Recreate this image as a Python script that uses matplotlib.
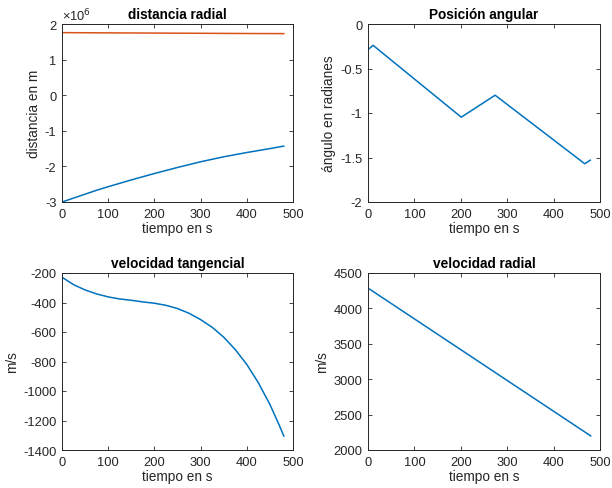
import numpy as np
import matplotlib.pyplot as plt

# ---- data ----
t_dist = [0, 25, 50, 75, 100, 150, 200, 250, 300, 350, 400, 450, 480]
r_blue = [-3.00e6, -2.89e6, -2.78e6, -2.67e6, -2.57e6, -2.38e6, -2.20e6,
          -2.03e6, -1.87e6, -1.73e6, -1.61e6, -1.50e6, -1.43e6]
r_orange = [1.757e6, 1.756e6, 1.754e6, 1.753e6, 1.751e6, 1.748e6, 1.745e6,
            1.742e6, 1.739e6, 1.736e6, 1.733e6, 1.731e6, 1.730e6]

t_ang = [0, 11, 201, 274, 467, 479]
ang = [-0.288, -0.24, -1.047, -0.80, -1.57, -1.53]

t_vt = [0, 25, 50, 75, 100, 125, 150, 175, 200, 225, 250, 275, 300,
        325, 350, 375, 400, 425, 450, 470, 480]
vt = [-229, -279, -315, -342, -362, -376, -385, -396, -405, -419, -441, -473,
      -516, -568, -635, -719, -820, -944, -1091, -1230, -1305]

t_vr = [0, 480]
vr = [4287, 2199]

blue = (0.0, 0.447, 0.741)
orange = (0.85, 0.325, 0.098)
tick_gray = (0.15, 0.15, 0.15)

plt.rcParams['font.family'] = ['Liberation Sans', 'DejaVu Sans']

fig = plt.figure(figsize=(6.12, 4.89), dpi=100)
W, H = 612, 489

def make_ax(x0, y0, x1, y1):
    return fig.add_axes([x0 / W, 1 - y1 / H, (x1 - x0) / W, (y1 - y0) / H])

ax1 = make_ax(62, 25, 293, 203)
ax2 = make_ax(368, 25, 600, 203)
ax3 = make_ax(62, 274, 293, 451)
ax4 = make_ax(368, 274, 600, 451)

def style(ax, title, ylabel):
    ax.set_title(title, fontsize=9.8, fontweight='bold', pad=4)
    ax.set_xlabel('tiempo en s', fontsize=9.8, color=tick_gray, labelpad=1)
    ax.set_ylabel(ylabel, fontsize=9.8, color=tick_gray, labelpad=3)
    ax.set_xlim(0, 500)
    ax.set_xticks([0, 100, 200, 300, 400, 500])
    ax.tick_params(direction='in', length=3, width=0.6, top=True, right=True,
                   colors=tick_gray, labelsize=9.3, pad=4)
    for s in ax.spines.values():
        s.set_linewidth(0.7)
        s.set_color(tick_gray)

ax1.plot(t_dist, r_blue, color=blue, lw=1.1)
ax1.plot(t_dist, r_orange, color=orange, lw=1.1)
style(ax1, 'distancia radial', 'distancia en m')
ax1.set_ylim(-3e6, 2e6)
ax1.set_yticks([-3e6, -2e6, -1e6, 0, 1e6, 2e6])
ax1.set_yticklabels(['-3', '-2', '-1', '0', '1', '2'])
ax1.text(0.0, 1.005, '×10$^{6}$', transform=ax1.transAxes, fontsize=9.3,
         color=tick_gray, ha='left', va='bottom')

ax2.plot(t_ang, ang, color=blue, lw=1.1)
style(ax2, 'Posición angular', 'ángulo en radianes')
ax2.set_ylim(-2, 0)
ax2.set_yticks([-2, -1.5, -1, -0.5, 0])
ax2.set_yticklabels(['-2', '-1.5', '-1', '-0.5', '0'])

ax3.plot(t_vt, vt, color=blue, lw=1.1)
style(ax3, 'velocidad tangencial', 'm/s')
ax3.set_ylim(-1400, -200)
ax3.set_yticks([-1400, -1200, -1000, -800, -600, -400, -200])
ax3.set_yticklabels(['-1400', '-1200', '-1000', '-800', '-600', '-400', '-200'])

ax4.plot(t_vr, vr, color=blue, lw=1.1)
style(ax4, 'velocidad radial', 'm/s')
ax4.set_ylim(2000, 4500)
ax4.set_yticks([2000, 2500, 3000, 3500, 4000, 4500])

fig.savefig('out.png', dpi=100)
